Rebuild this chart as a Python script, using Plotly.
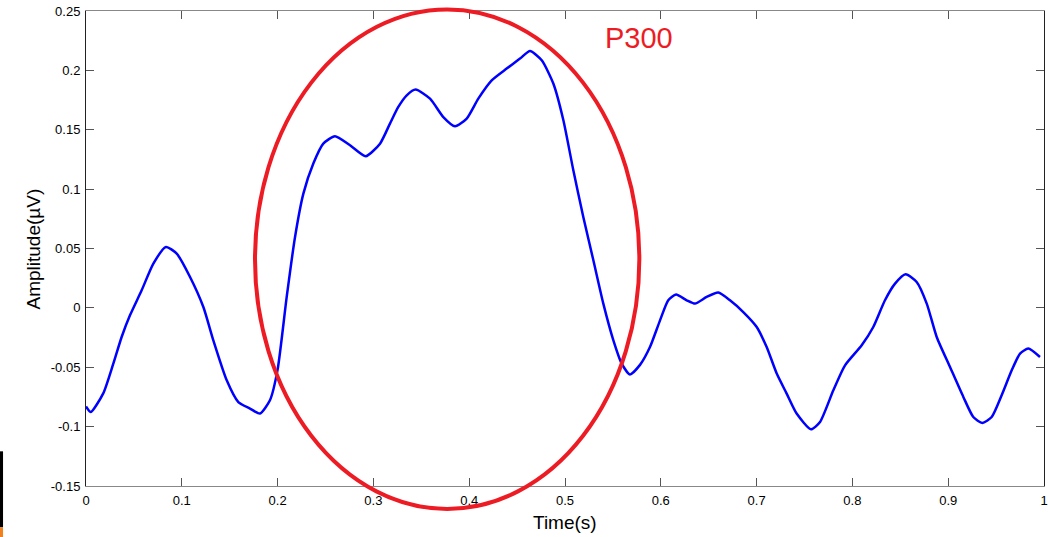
import plotly.graph_objects as go

# ---- data ----
time_s = [0.000, 0.005, 0.018, 0.0285, 0.0372, 0.0459, 0.0581, 0.0703, 0.0835, 0.0947,
          0.1086, 0.1225, 0.1329, 0.1469, 0.159, 0.1712, 0.1816, 0.192, 0.200, 0.2095,
          0.2182, 0.2269, 0.2373, 0.2477, 0.2599, 0.2756, 0.292, 0.3069, 0.3173, 0.326,
          0.3348, 0.3441, 0.3591, 0.373, 0.3852, 0.3974, 0.4095, 0.4235, 0.4391, 0.453,
          0.4635, 0.4757, 0.4878, 0.4983, 0.5087, 0.5191, 0.5296, 0.540, 0.5505, 0.5592,
          0.5678, 0.5783, 0.5887, 0.5992, 0.6078, 0.6159, 0.627, 0.6357, 0.6479, 0.660,
          0.6722, 0.6861, 0.7001, 0.7105, 0.721, 0.7314, 0.7418, 0.7568, 0.7662, 0.7801,
          0.7923, 0.8097, 0.8218, 0.834, 0.8445, 0.8556, 0.8671, 0.8776, 0.888, 0.9019,
          0.9158, 0.9262, 0.9356, 0.9454, 0.9558, 0.9663, 0.975, 0.9836, 0.9958]
amplitude_uv = [-0.083, -0.0877, -0.072, -0.047, -0.0245, -0.0063, 0.0148, 0.0373, 0.0513, 0.0457,
                0.026, 0.0007, -0.0273, -0.061, -0.0793, -0.0848, -0.089, -0.0778, -0.052, 0.0092,
                0.0597, 0.0962, 0.1215, 0.1383, 0.1445, 0.1369, 0.1277, 0.1383, 0.1552, 0.1692,
                0.179, 0.1838, 0.1762, 0.1607, 0.1529, 0.1594, 0.1762, 0.1916, 0.2015, 0.2099,
                0.2163, 0.2085, 0.1889, 0.158, 0.1159, 0.0765, 0.0401, 0.0036, -0.0273, -0.0469,
                -0.056, -0.048, -0.033, -0.0105, 0.0064, 0.0112, 0.0064, 0.0036, 0.0092, 0.0129,
                0.0064, -0.0035, -0.0161, -0.033, -0.0553, -0.0722, -0.089, -0.1023, -0.0961, -0.0694,
                -0.0484, -0.0315, -0.0161, 0.0064, 0.0204, 0.0283, 0.0218, 0.0036, -0.0245, -0.0498,
                -0.075, -0.0919, -0.0969, -0.0919, -0.0736, -0.0526, -0.0385, -0.0343, -0.0414]

x_tick_vals = [0, 0.1, 0.2, 0.3, 0.4, 0.5, 0.6, 0.7, 0.8, 0.9, 1]
x_tick_text = ["0", "0.1", "0.2", "0.3", "0.4", "0.5", "0.6", "0.7", "0.8", "0.9", "1"]
y_tick_vals = [-0.15, -0.1, -0.05, 0, 0.05, 0.1, 0.15, 0.2, 0.25]
y_tick_text = ["-0.15", "-0.1", "-0.05", "0", "0.05", "0.1", "0.15", "0.2", "0.25"]

x_range = [0, 1]
y_range = [-0.15, 0.25]

# P300 highlight ellipse (data units)
ellipse_x = [0.1764, 0.5776]
ellipse_y = [-0.1693, 0.2513]
label_text = "P300"
x_title = "Time(s)"
y_title = "Amplitude(µV)"


def to_px(xv):
    return (xv - x_range[0]) / (x_range[1] - x_range[0])


def to_py(yv):
    return (yv - y_range[0]) / (y_range[1] - y_range[0])


FONT = "Liberation Sans, Arial, Helvetica, sans-serif"

fig = go.Figure()
fig.add_trace(go.Scatter(
    x=time_s, y=amplitude_uv, mode="lines",
    line=dict(color="#0000FF", width=2.5, shape="spline", smoothing=0.6),
    hoverinfo="skip", showlegend=False,
))

fig.add_shape(
    type="circle", xref="paper", yref="paper",
    x0=to_px(ellipse_x[0]), x1=to_px(ellipse_x[1]),
    y0=to_py(ellipse_y[0]), y1=to_py(ellipse_y[1]),
    line=dict(color="#ED1C24", width=4), layer="above",
)

fig.add_annotation(
    text=label_text, xref="paper", yref="paper",
    x=0.5397, y=0.944, xanchor="left", yanchor="middle",
    showarrow=False, font=dict(family=FONT, size=29, color="#ED1C24"),
)

# axis titles
fig.add_annotation(
    text=x_title, xref="paper", yref="paper",
    x=0.5, y=-0.0758, xanchor="center", yanchor="middle",
    showarrow=False, font=dict(family=FONT, size=19, color="#000000"),
)
fig.add_annotation(
    text=y_title, xref="paper", yref="paper", textangle=-90,
    x=-0.0543, y=0.5, xanchor="center", yanchor="middle",
    showarrow=False, font=dict(family=FONT, size=19, color="#000000"),
)

# small edge artifact at the left-bottom of the reference image
fig.add_shape(type="rect", xref="paper", yref="paper",
              x0=-0.0898, x1=-0.0866, y0=-0.087, y1=0.073,
              fillcolor="#000000", line=dict(width=0), layer="above")
fig.add_shape(type="rect", xref="paper", yref="paper",
              x0=-0.0898, x1=-0.0866, y0=-0.11, y1=-0.087,
              fillcolor="#F08020", line=dict(width=0), layer="above")

axis_common = dict(
    showgrid=False, zeroline=False, ticks="inside", ticklen=8, tickwidth=1,
    mirror="ticks", showline=True, linewidth=1,
    tickfont=dict(family=FONT, size=13, color="#000000"),
    ticklabeloverflow="allow",
)

fig.update_xaxes(
    range=x_range, tickvals=x_tick_vals, ticktext=x_tick_text,
    linecolor="#888888", tickcolor="#555555",
    ticklabelstandoff=2,
    **axis_common,
)
fig.update_yaxes(
    range=y_range, tickvals=y_tick_vals, ticktext=y_tick_text,
    linecolor="#222222", tickcolor="#555555",
    ticklabelstandoff=2,
    **axis_common,
)

fig.update_layout(
    width=1048, height=537,
    margin=dict(l=86, r=4, t=11, b=51, autoexpand=False),
    paper_bgcolor="#FFFFFF", plot_bgcolor="#FFFFFF",
    font=dict(family=FONT),
)

fig.write_html(
    "out.html",
    config={"displayModeBar": False, "staticPlot": True},
    post_script="document.body.style.margin='0';document.body.style.overflow='hidden';",
)
